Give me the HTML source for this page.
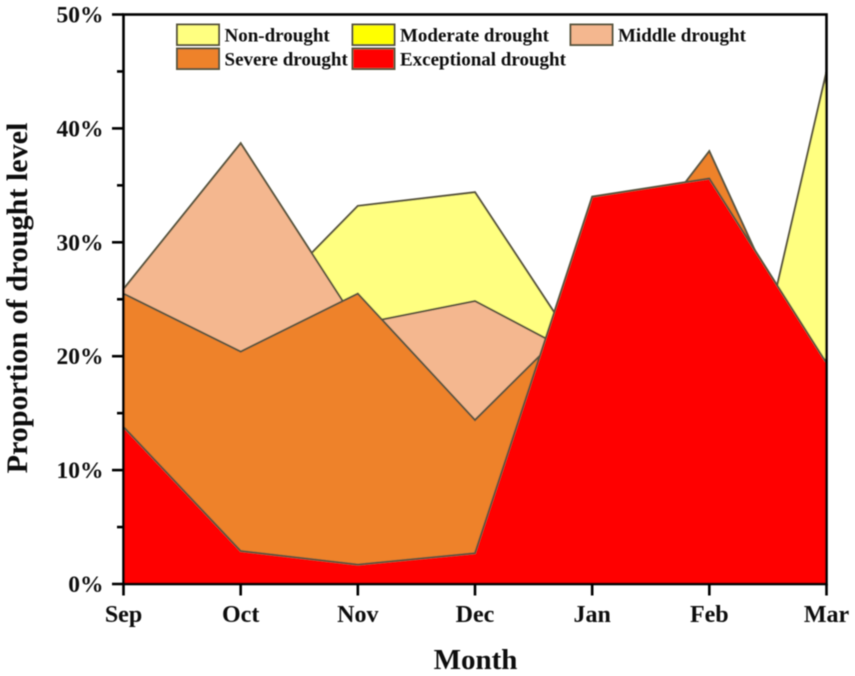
<!DOCTYPE html>
<html lang="en">
<head>
<meta charset="utf-8">
<title>Proportion of drought level by month</title>
<style>
html,body{margin:0;padding:0;background:#fff;}
body{width:855px;height:676px;overflow:hidden;}
svg{display:block;}
text{font-family:"Liberation Serif",serif;font-weight:bold;fill:#111;}
</style>
</head>
<body>
<svg id="chart" width="855" height="676" viewBox="0 0 855 676" xmlns="http://www.w3.org/2000/svg">
  <defs>
    <filter id="soft" x="-2%" y="-2%" width="104%" height="104%"><feGaussianBlur stdDeviation="0.45"/></filter>
  </defs>
  <g id="root" filter="url(#soft)"></g>
</svg>
<script>
const months = ['Sep', 'Oct', 'Nov', 'Dec', 'Jan', 'Feb', 'Mar'];
const yTickLabels = ['0%', '10%', '20%', '30%', '40%', '50%'];
const yTickValues = [0, 10, 20, 30, 40, 50];
const yMinorValues = [5, 15, 25, 35, 45];
const nonDrought = [18, 22.7, 33.2, 34.4, 18.8, 0.4, 45];
const moderateDrought = [10, 12, 14, 10, 12, 8, 6];
const middleDrought = [25.9, 38.7, 22.8, 24.85, 19.4, 10, 10];
const severeDrought = [25.5, 20.4, 25.5, 14.4, 24.6, 38, 15.6];
const exceptionalDrought = [13.8, 2.9, 1.7, 2.7, 34, 35.6, 19.4];

const NS = 'http://www.w3.org/2000/svg';
const root = document.getElementById('root');
const plot = {left: 123.5, right: 826.5, top: 14.5, bottom: 584};
const yMax = 50;
function xScale(i) { return plot.left + i * (plot.right - plot.left) / (months.length - 1); }
function yScale(v) { return plot.bottom - v * (plot.bottom - plot.top) / yMax; }
function make(tag, attrs, parent) {
  const el = document.createElementNS(NS, tag);
  for (const k in attrs) el.setAttribute(k, attrs[k]);
  (parent || root).appendChild(el);
  return el;
}
const STROKE = '#5a5640';

function drawArea(values, fill, name) {
  const pts = values.map(function (v, i) { return xScale(i).toFixed(1) + ',' + yScale(v).toFixed(1); });
  const all = xScale(0).toFixed(1) + ',' + yScale(0) + ' ' + pts.join(' ') + ' ' + xScale(values.length - 1).toFixed(1) + ',' + yScale(0);
  const el = make('polygon', {points: all, fill: fill, stroke: STROKE, 'stroke-width': 2, 'stroke-linejoin': 'miter'});
  
  
}
drawArea(nonDrought, '#ffff80', 'area-non-drought');
drawArea(moderateDrought, '#ffff00', 'area-moderate-drought');
drawArea(middleDrought, '#f4b78f', 'area-middle-drought');
drawArea(severeDrought, '#ee822b', 'area-severe-drought');
drawArea(exceptionalDrought, '#ff0000', 'area-exceptional-drought');

// plot frame
const frame = make('rect', {x: plot.left, y: plot.top, width: plot.right - plot.left, height: plot.bottom - plot.top, fill: 'none', stroke: '#000', 'stroke-width': 2.6});



// y axis
yTickValues.forEach(function (v, i) {
  const t = make('line', {x1: plot.left - 11.5, x2: plot.left, y1: yScale(v), y2: yScale(v), stroke: '#000', 'stroke-width': 2.6});
  
  
  const lab = make('text', {x: 103.5, y: yScale(v) + 8, 'text-anchor': 'end', 'font-size': 23.5});
  lab.textContent = yTickLabels[i];
  
  
});
yMinorValues.forEach(function (v) {
  const t = make('line', {x1: plot.left - 6.5, x2: plot.left, y1: yScale(v), y2: yScale(v), stroke: '#000', 'stroke-width': 2.6});
  
  
});

// x axis
months.forEach(function (m, i) {
  const t = make('line', {x1: xScale(i), x2: xScale(i), y1: plot.bottom, y2: plot.bottom + 11.5, stroke: '#000', 'stroke-width': 2.6});
  
  
  const lab = make('text', {x: xScale(i), y: 622, 'text-anchor': 'middle', 'font-size': 24});
  lab.textContent = m;
  
  
});

// axis titles
const xTitle = make('text', {x: 475.5, y: 669, 'text-anchor': 'middle', 'font-size': 29});
xTitle.textContent = 'Month';


const yTitle = make('text', {x: 0, y: 0, 'text-anchor': 'middle', 'font-size': 30.1, transform: 'translate(27 298) rotate(-90)'});
yTitle.textContent = 'Proportion of drought level';



// legend
const legend = make('g', {});


function legendEntry(x, y, fill, label, name) {
  const g = make('g', {}, legend);
  
  
  make('rect', {x: x, y: y, width: 42, height: 20.5, fill: fill, stroke: STROKE, 'stroke-width': 2}, g);
  const t = make('text', {x: x + 47.5, y: y + 17, 'font-size': 19}, g);
  t.textContent = label;
}
legendEntry(177, 24.5, '#ffff80', 'Non-drought', 'legend-non-drought');
legendEntry(352.5, 24.5, '#ffff00', 'Moderate drought', 'legend-moderate-drought');
legendEntry(570.5, 24.5, '#f4b78f', 'Middle drought', 'legend-middle-drought');
legendEntry(177, 48.5, '#ee822b', 'Severe drought', 'legend-severe-drought');
legendEntry(352.5, 48.5, '#ff0000', 'Exceptional drought', 'legend-exceptional-drought');
</script>
</body>
</html>
